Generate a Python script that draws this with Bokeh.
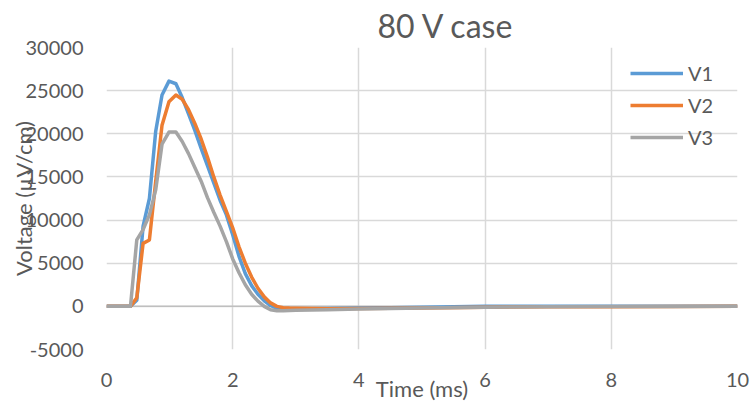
from bokeh.plotting import figure
from bokeh.models import FixedTicker, Span, Legend, LegendItem
from bokeh.embed import file_html
from bokeh.resources import INLINE

# ---- data ----
time_ms = [0, 0.1, 0.2, 0.3, 0.38, 0.48, 0.58, 0.68, 0.78, 0.88, 0.99, 1.1, 1.2, 1.3,
           1.4, 1.5, 1.6, 1.7, 1.8, 1.9, 2.0, 2.1, 2.2, 2.3, 2.4, 2.5, 2.6, 2.7, 2.8,
           2.9, 3.0, 3.5, 4.0, 4.5, 5.0, 6.0, 7.0, 8.0, 9.0, 10.0]
v1 = [0, 0, 0, 0, 0, 700, 9300, 12500, 20300, 24500, 26100, 25800, 24200, 22300,
      20400, 18300, 16300, 14300, 12300, 10600, 8300, 5800, 3800, 2400, 1400, 650, 100,
      -250, -330, -330, -320, -250, -200, -150, -100, 0, 0, 0, 0, 0]
v2 = [0, 0, 0, 0, 0, 1000, 7300, 7700, 14500, 21000, 23700, 24500, 24000, 22800,
      21200, 19400, 17300, 15000, 12900, 11000, 9100, 6900, 5000, 3400, 2100, 1100, 400,
      0, -150, -200, -220, -280, -250, -220, -180, -100, -60, -40, -20, 0]
v3 = [0, 0, 0, 0, 0, 7700, 8900, 10600, 13500, 18800, 20200, 20200, 19100, 17700,
      16100, 14500, 12600, 10900, 9300, 7500, 5500, 3900, 2500, 1400, 600, 0, -400,
      -500, -520, -480, -450, -380, -300, -250, -200, -100, -50, -30, -10, 0]
series_names = ["V1", "V2", "V3"]
x_ticks = [0, 2, 4, 6, 8, 10]
y_ticks = [-5000, 0, 5000, 10000, 15000, 20000, 25000, 30000]
y_tick_labels = ["-5000", "0", "5000", "10000", "15000", "20000", "25000", "30000"]
title_text = "80 V case"
x_label = "Time (ms)"
y_label = "Voltage (\u00b5V/cm)"

# ---- styles ----
colors = ["#5B9BD5", "#ED7D31", "#A5A5A5"]
FONT = "Lato"
TXT = "#595959"
GRID = "#D9D9D9"

p = figure(frame_width=631, frame_height=302, x_range=(0, 10), y_range=(-5000, 30000),
           output_backend="svg", toolbar_location=None,
           min_border_left=106, min_border_right=13, min_border_top=47, min_border_bottom=54)
p.outline_line_color = None
p.background_fill_color = "white"

p.title.text = title_text
p.title.align = "left"
p.title.offset = 271
p.title.standoff = 6
p.title.text_font = FONT
p.title.text_font_size = "32px"
p.title.text_font_style = "normal"
p.title.text_color = TXT

for ax in (p.xaxis, p.yaxis):
    ax.axis_line_color = None
    ax.major_tick_line_color = None
    ax.minor_tick_line_color = None
    ax.major_label_text_font = FONT
    ax.major_label_text_font_size = "20px"
    ax.major_label_text_color = TXT
    ax.axis_label_text_font = FONT
    ax.axis_label_text_font_size = "22px"
    ax.axis_label_text_font_style = "normal"
    ax.axis_label_text_color = TXT
p.xaxis.ticker = FixedTicker(ticks=x_ticks)
p.yaxis.ticker = FixedTicker(ticks=y_ticks)
p.yaxis.major_label_overrides = dict(zip(y_ticks, y_tick_labels))
p.yaxis.major_label_standoff = 17
p.xaxis.major_label_standoff = 17
p.xaxis.axis_label = x_label
p.yaxis.axis_label = y_label
p.xaxis.axis_label_standoff = -15
p.yaxis.axis_label_standoff = -14

p.xgrid.ticker = FixedTicker(ticks=x_ticks)
p.ygrid.ticker = FixedTicker(ticks=y_ticks)
for g in (p.xgrid, p.ygrid):
    g.grid_line_color = GRID
    g.grid_line_width = 1.5

p.add_layout(Span(location=0, dimension="width", line_color="#BFBFBF", line_width=1.5,
                  level="underlay"))

items = []
for name, ys, c in zip(series_names, [v1, v2, v3], colors):
    r = p.line(time_ms, ys, line_color=c, line_width=3.5, line_join="round")
    items.append(LegendItem(label=name, renderers=[r]))

legend = Legend(items=items, location=(524, 200), border_line_color=None,
                background_fill_alpha=0, glyph_width=53, glyph_height=20,
                label_height=20, spacing=8, padding=0, margin=0,
                label_text_font=FONT, label_text_font_size="20px",
                label_text_color=TXT, label_standoff=5)
p.add_layout(legend)

open("out.html", "w").write(file_html(p, INLINE))
